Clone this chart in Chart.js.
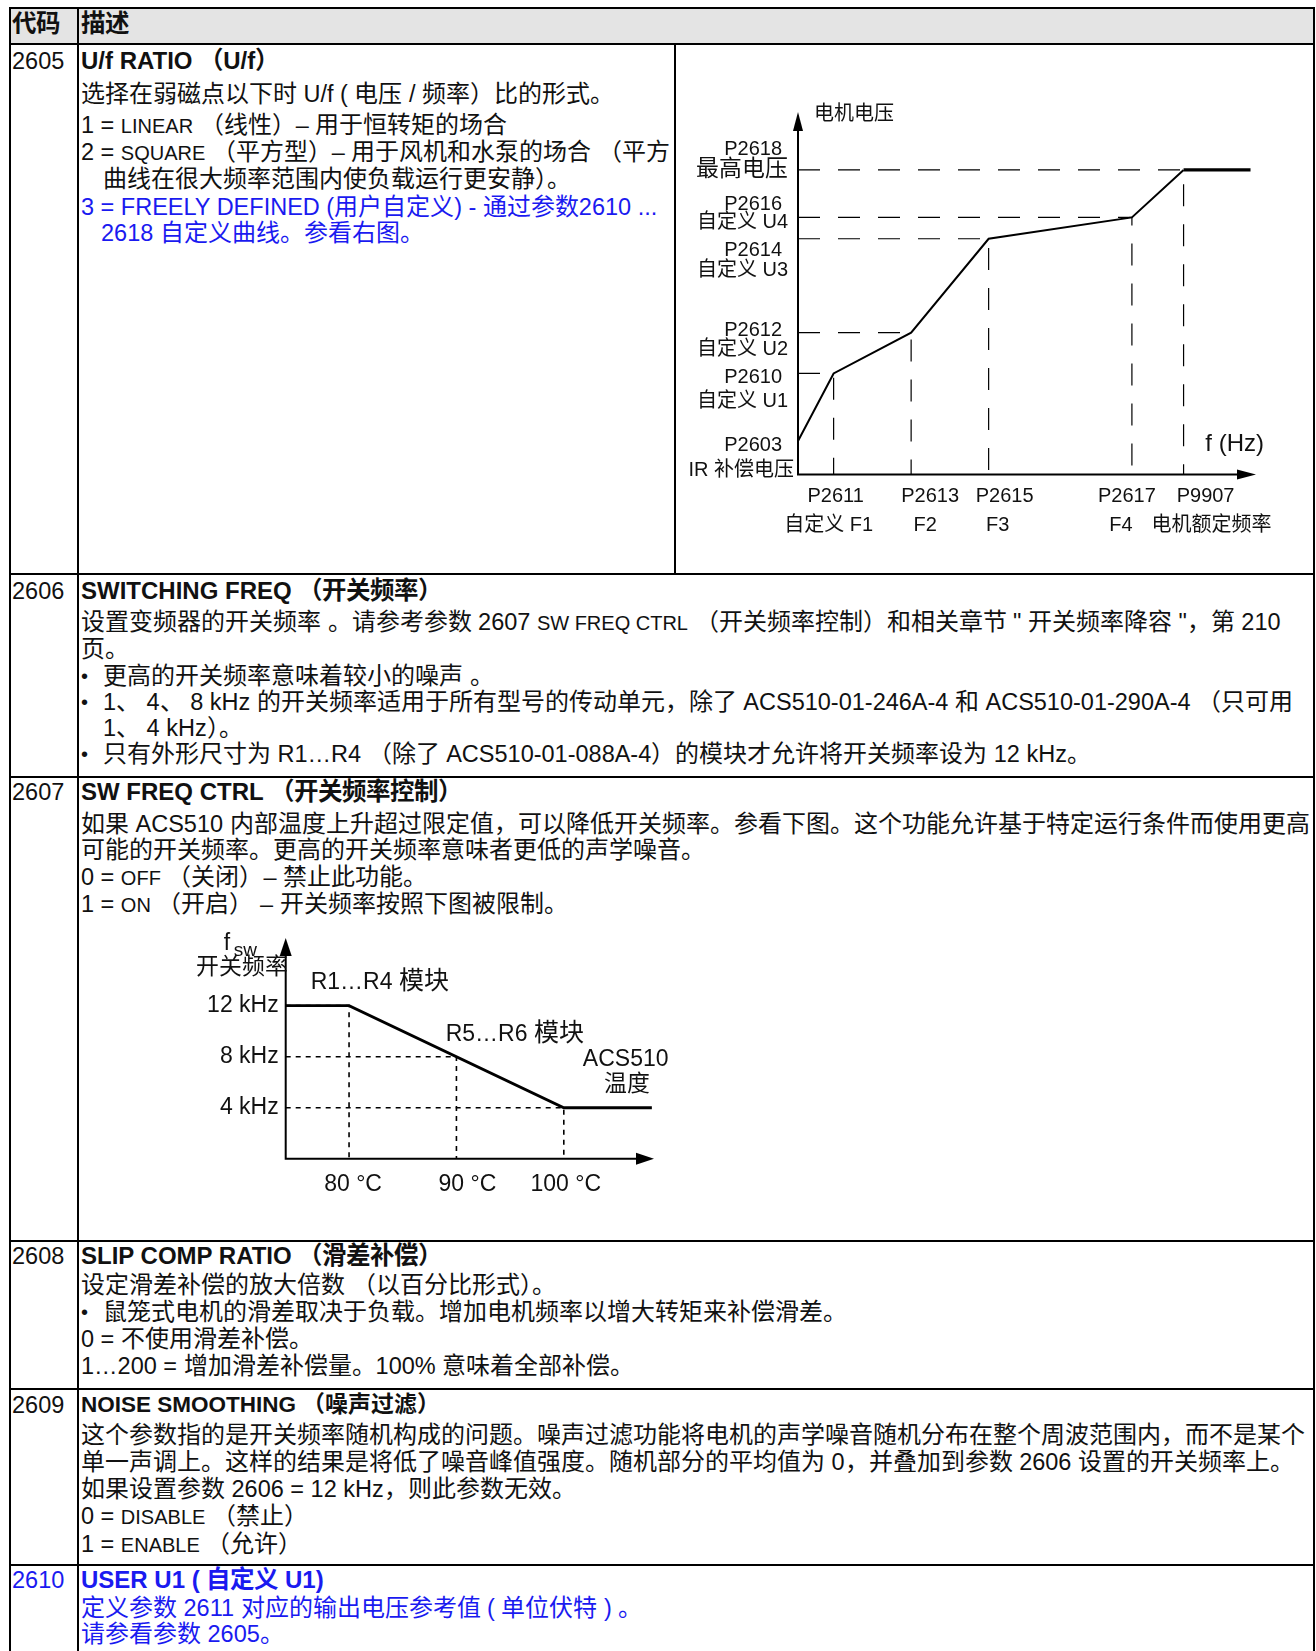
<!DOCTYPE html>
<html>
<head>
<meta charset="utf-8">
<script src="https://cdn.jsdelivr.net/npm/chart.js@4.4.1/dist/chart.umd.min.js"></script>
<style>
@font-face { font-family: "CJK"; src: local("NotoSansCJKsc-Regular"), local("Noto Sans CJK SC Regular"), local("Noto Sans CJK SC"); size-adjust: 102%; }
@font-face { font-family: "CJK"; font-weight: bold; src: local("NotoSansCJKsc-Bold"), local("Noto Sans CJK SC Bold"); size-adjust: 102%; }
@font-face { font-family: "CJKc"; src: local("NotoSansCJKsc-Regular"), local("Noto Sans CJK SC Regular"), local("Noto Sans CJK SC"); size-adjust: 109%; }
html, body { margin: 0; padding: 0; background: #fff; }
body { width: 1316px; height: 1651px; position: relative; overflow: hidden;
  font-family: "Liberation Sans", "CJK", "Noto Sans CJK SC", sans-serif; font-size: 23.5px; color: #111; }
.ln { position: absolute; background: #000; }
.row { position: absolute; left: 81px; white-space: nowrap; }
.code { position: absolute; left: 12px; line-height: 28px; white-space: nowrap; }
.t { font-weight: bold; font-size: 24px; line-height: 28px; }
.sc { font-size: 20px; }
.blue { color: #1a1af0; }
.ind { padding-left: 22px; }
.b { position: relative; padding-left: 22px; }
.b::before { content: "•"; position: absolute; left: 0; font-size: 20px; }
canvas { position: absolute; }
</style>
</head>
<body>

<!-- table frame -->
<div class="ln" style="left:10px;top:9px;width:1303px;height:35px;background:#e4e4e4"></div>
<div class="ln" style="left:9px;top:7px;width:1306px;height:2px"></div>
<div class="ln" style="left:9px;top:43px;width:1306px;height:2px"></div>
<div class="ln" style="left:9px;top:573px;width:1306px;height:2px"></div>
<div class="ln" style="left:9px;top:776px;width:1306px;height:2px"></div>
<div class="ln" style="left:9px;top:1240px;width:1306px;height:2px"></div>
<div class="ln" style="left:9px;top:1388px;width:1306px;height:2px"></div>
<div class="ln" style="left:9px;top:1564px;width:1306px;height:2px"></div>
<div class="ln" style="left:9px;top:7px;width:1.5px;height:1644px"></div>
<div class="ln" style="left:77px;top:7px;width:2px;height:1644px"></div>
<div class="ln" style="left:674px;top:44px;width:2px;height:530px"></div>
<div class="ln" style="left:1313px;top:7px;width:2px;height:1644px"></div>

<!-- header -->
<div class="code t" style="top:10px">代码</div>
<div class="row t" style="top:10px">描述</div>

<!-- 2605 -->
<div class="code" style="top:47px">2605</div>
<div class="row" style="top:47px;line-height:26px">
  <div class="t">U/f RATIO （U/f）</div>
  <div style="margin-top:6px">选择在弱磁点以下时 U/f ( 电压 / 频率）比的形式。</div>
  <div style="margin-top:5px">1 = <span class="sc">LINEAR</span> （线性）– 用于恒转矩的场合</div>
  <div>2 = <span class="sc">SQUARE</span> （平方型）– 用于风机和水泵的场合 （平方</div>
  <div class="ind">曲线在很大频率范围内使负载运行更安静）。</div>
  <div class="blue" style="margin-top:2px">3 = FREELY DEFINED (用户自定义) - 通过参数2610 ...</div>
  <div class="blue" style="padding-left:20px">2618 自定义曲线。参看右图。</div>
</div>

<!-- 2606 -->
<div class="code" style="top:577px">2606</div>
<div class="row" style="top:577px;line-height:26.3px">
  <div class="t">SWITCHING FREQ （开关频率）</div>
  <div style="margin-top:4px">设置变频器的开关频率 。请参考参数 2607 <span class="sc">SW FREQ CTRL</span> （开关频率控制）和相关章节 " 开关频率降容 "，第 210</div>
  <div>页。</div>
  <div class="b">更高的开关频率意味着较小的噪声 。</div>
  <div class="b">1、 4、 8 kHz 的开关频率适用于所有型号的传动单元，除了 ACS510-01-246A-4 和 ACS510-01-290A-4 （只可用</div>
  <div class="ind">1、 4 kHz）。</div>
  <div class="b">只有外形尺寸为 R1…R4 （除了 ACS510-01-088A-4）的模块才允许将开关频率设为 12 kHz。</div>
</div>

<!-- 2607 -->
<div class="code" style="top:778px">2607</div>
<div class="row" style="top:778px;line-height:26.3px">
  <div class="t">SW FREQ CTRL （开关频率控制）</div>
  <div style="margin-top:5px">如果 ACS510 内部温度上升超过限定值，可以降低开关频率。参看下图。这个功能允许基于特定运行条件而使用更高</div>
  <div>可能的开关频率。更高的开关频率意味者更低的声学噪音。</div>
  <div>0 = <span class="sc">OFF</span> （关闭）– 禁止此功能。</div>
  <div>1 = <span class="sc">ON</span> （开启） – 开关频率按照下图被限制。</div>
</div>

<!-- 2608 -->
<div class="code" style="top:1242px">2608</div>
<div class="row" style="top:1242px;line-height:27px">
  <div class="t">SLIP COMP RATIO （滑差补偿）</div>
  <div style="margin-top:2px">设定滑差补偿的放大倍数 （以百分比形式）。</div>
  <div class="b">鼠笼式电机的滑差取决于负载。增加电机频率以增大转矩来补偿滑差。</div>
  <div>0 = 不使用滑差补偿。</div>
  <div>1…200 = 增加滑差补偿量。100% 意味着全部补偿。</div>
</div>

<!-- 2609 -->
<div class="code" style="top:1391px">2609</div>
<div class="row" style="top:1391px;line-height:27px">
  <div class="t" style="font-size:22.5px">NOISE SMOOTHING （噪声过滤）</div>
  <div style="margin-top:3px">这个参数指的是开关频率随机构成的问题。噪声过滤功能将电机的声学噪音随机分布在整个周波范围内，而不是某个</div>
  <div>单一声调上。这样的结果是将低了噪音峰值强度。随机部分的平均值为 0，并叠加到参数 2606 设置的开关频率上。</div>
  <div>如果设置参数 2606 = 12 kHz，则此参数无效。</div>
  <div>0 = <span class="sc">DISABLE</span> （禁止）</div>
  <div>1 = <span class="sc">ENABLE</span> （允许）</div>
</div>

<!-- 2610 -->
<div class="code blue" style="top:1566px">2610</div>
<div class="row blue" style="top:1566px;line-height:25.5px">
  <div class="t">USER U1 ( 自定义 U1)</div>
  <div style="margin-top:2px">定义参数 2611 对应的输出电压参考值 ( 单位伏特 ) 。</div>
  <div>请参看参数 2605。</div>
</div>

<canvas id="uf" width="637" height="527" style="left:676px;top:46px;width:637px;height:527px"></canvas>
<canvas id="sw" width="618" height="326" style="left:80px;top:912px;width:618px;height:326px"></canvas>

<script>
// U/f curve (2605), frequency and voltage of the corner points
const ufFreq = [0, 9.1, 28.9, 48.7, 85.3, 98.5, 115.6];
const ufVolt = [11.0, 33.2, 46.6, 77.4, 84.4, 100, 100];
const ufFreqCodes = ['P2611', 'P2613', 'P2615', 'P2617', 'P9907'];
const ufFreqNames = ['自定义 F1', 'F2', 'F3', 'F4', '电机额定频率'];
const ufVoltCodes = ['P2603', 'P2610', 'P2612', 'P2614', 'P2616', 'P2618'];
const ufVoltNames = ['IR 补偿电压', '自定义 U1', '自定义 U2', '自定义 U3', '自定义 U4', '最高电压'];

// switching frequency vs drive temperature (2607)
const swTemp = [74.1, 80, 100, 108.2];
const swKhz = [12, 12, 4, 4];
const tempTicks = [80, 90, 100];
const tempLabels = ['80 °C', '90 °C', '100 °C'];
const khzTicks = [12, 8, 4];
const khzLabels = ['12 kHz', '8 kHz', '4 kHz'];

const INK = '#111';

function font(size, cjk) {
  return size + 'px "Liberation Sans", ' + (cjk || '"Noto Sans CJK SC"') + ', sans-serif';
}
function txt(ctx, s, x, y, align, f) {
  ctx.font = f;
  ctx.textAlign = align;
  ctx.textBaseline = 'middle';
  ctx.fillStyle = INK;
  ctx.fillText(s, x, y);
}

// axes with arrow heads, drawn from the chart area
function drawAxes(chart, headLen, headHalf) {
  const ctx = chart.ctx, a = chart.chartArea;
  ctx.save();
  ctx.strokeStyle = '#000';
  ctx.fillStyle = '#000';
  ctx.lineWidth = 2;
  ctx.beginPath();
  ctx.moveTo(a.left, a.top + headLen - 2);
  ctx.lineTo(a.left, a.bottom);
  ctx.lineTo(a.right - headLen + 2, a.bottom);
  ctx.stroke();
  ctx.beginPath();
  ctx.moveTo(a.left, a.top);
  ctx.lineTo(a.left - headHalf, a.top + headLen);
  ctx.lineTo(a.left + headHalf, a.top + headLen);
  ctx.closePath();
  ctx.fill();
  ctx.beginPath();
  ctx.moveTo(a.right, a.bottom);
  ctx.lineTo(a.right - headLen, a.bottom - headHalf);
  ctx.lineTo(a.right - headLen, a.bottom + headHalf);
  ctx.closePath();
  ctx.fill();
  ctx.restore();
}

function build() {
  // ---- chart 1: U/f ----
  const ufLine = ufFreq.map((f, i) => ({ x: f, y: ufVolt[i] }));
  const ufGuides = [];
  for (let i = 1; i < ufFreq.length - 1; i++) {
    ufGuides.push({
      data: [{ x: 0, y: ufVolt[i] }, { x: ufFreq[i], y: ufVolt[i] }, { x: ufFreq[i], y: 0 }],
      borderColor: '#000', borderWidth: 1.2, borderDash: [22, 18], pointRadius: 0, clip: false
    });
  }

  const ufLabels = {
    id: 'ufLabels',
    afterDatasetsDraw(chart) {
      const ctx = chart.ctx, a = chart.chartArea;
      const xs = chart.scales.x, ys = chart.scales.y;
      drawAxes(chart, 19, 5);
      // voltage labels on the left (hand placed shifts like the drawing)
      const codeDy = [4, 4, -2, 12, -13, -20];
      const nameDy = [29, 28, 17, 32, 5, 0];
      ufVoltCodes.forEach((c, i) => {
        const py = ys.getPixelForValue(ufVolt[i]);
        txt(ctx, c, a.left - 16, py + codeDy[i], 'right', font(20));
        const nf = i === ufVoltCodes.length - 1 ? font(21, 'CJKc') : font(20);
        txt(ctx, ufVoltNames[i], a.left - (i === 0 ? 4 : 10), py + nameDy[i], 'right', nf);
      });
      // frequency labels below
      const codeDx = [2, 19, 16, -5, 22];
      const nameDx = [-5, 14, 9, -11, 28];
      ufFreqCodes.forEach((c, i) => {
        const px = xs.getPixelForValue(ufFreq[i + 1]);
        txt(ctx, c, px + codeDx[i], a.bottom + 22, 'center', font(20));
        txt(ctx, ufFreqNames[i], px + nameDx[i], a.bottom + 51, 'center', font(20));
      });
      txt(ctx, '电机电压', a.left + 16, a.top + 2, 'left', font(20));
      txt(ctx, 'f (Hz)', a.right + 8, a.bottom - 30, 'right', font(24));
    }
  };

  new Chart(document.getElementById('uf'), {
    type: 'line',
    data: {
      datasets: [{
        data: ufLine,
        borderColor: '#000',
        borderWidth: 2,
        segment: { borderWidth: c => (c.p0DataIndex === ufFreq.length - 2 ? 3.2 : 2) },
        pointRadius: 0,
        tension: 0,
        clip: false
      }].concat(ufGuides)
    },
    options: {
      responsive: false,
      animation: false,
      events: [],
      layout: { padding: { left: 122, right: 57, top: 66, bottom: 98.4 } },
      plugins: { legend: { display: false }, tooltip: { enabled: false } },
      scales: {
        x: { type: 'linear', min: 0, max: 117, display: false },
        y: { type: 'linear', min: 0, max: 119, display: false }
      }
    },
    plugins: [ufLabels]
  });

  // ---- chart 2: switching frequency ----
  const tMin = 74.1;
  const swLine = swTemp.map((t, i) => ({ x: t, y: swKhz[i] }));
  const swGuides = tempTicks.map((t, i) => ({
    data: [{ x: tMin, y: khzTicks[i] }, { x: t, y: khzTicks[i] }, { x: t, y: 0 }],
    borderColor: '#000', borderWidth: 1.6, borderDash: [5, 5], pointRadius: 0, clip: false
  }));

  const swLabels = {
    id: 'swLabels',
    afterDatasetsDraw(chart) {
      const ctx = chart.ctx, a = chart.chartArea;
      const xs = chart.scales.x, ys = chart.scales.y;
      drawAxes(chart, 18, 6);
      khzTicks.forEach((k, i) => {
        txt(ctx, khzLabels[i], a.left - 7, ys.getPixelForValue(k), 'right', font(23, 'CJKc'));
      });
      const tickDx = [4, 11, 2];
      tempTicks.forEach((t, i) => {
        txt(ctx, tempLabels[i], xs.getPixelForValue(t) + tickDx[i], a.bottom + 26, 'center', font(23, 'CJKc'));
      });
      ctx.textBaseline = 'alphabetic';
      ctx.textAlign = 'left';
      ctx.fillStyle = INK;
      ctx.font = font(23);
      ctx.fillText('f', a.left - 62, a.top + 12);
      ctx.font = font(19);
      ctx.fillText('sw', a.left - 52, a.top + 18);
      txt(ctx, '开关频率', a.left + 2, a.top + 30, 'right', font(21, 'CJKc'));
      txt(ctx, 'R1…R4 模块', a.left + 25, a.top + 45, 'left', font(23, 'CJKc'));
      txt(ctx, 'R5…R6 模块', a.left + 160, a.top + 97, 'left', font(23, 'CJKc'));
      txt(ctx, 'ACS510', a.left + 340, a.top + 122, 'center', font(23, 'CJKc'));
      txt(ctx, '温度', a.left + 341, a.top + 147, 'center', font(21, 'CJKc'));
    }
  };

  new Chart(document.getElementById('sw'), {
    type: 'line',
    data: {
      datasets: [{
        data: swLine,
        borderColor: '#000',
        borderWidth: 2.8,
        pointRadius: 0,
        tension: 0,
        clip: false
      }].concat(swGuides)
    },
    options: {
      responsive: false,
      animation: false,
      events: [],
      layout: { padding: { left: 205.7, right: 44, top: 26, bottom: 79.2 } },
      plugins: { legend: { display: false }, tooltip: { enabled: false } },
      scales: {
        x: { type: 'linear', min: tMin, max: 108.4, display: false },
        y: { type: 'linear', min: 0, max: 17.3, display: false }
      }
    },
    plugins: [swLabels]
  });
}

Promise.all([
  document.fonts.load('20px CJK', '电'),
  document.fonts.load('bold 20px CJK', '电'),
  document.fonts.load('20px CJKc', '电'),
  document.fonts.load('20px "Liberation Sans"', 'P')
]).catch(() => {}).then(build);
</script>
</body>
</html>
